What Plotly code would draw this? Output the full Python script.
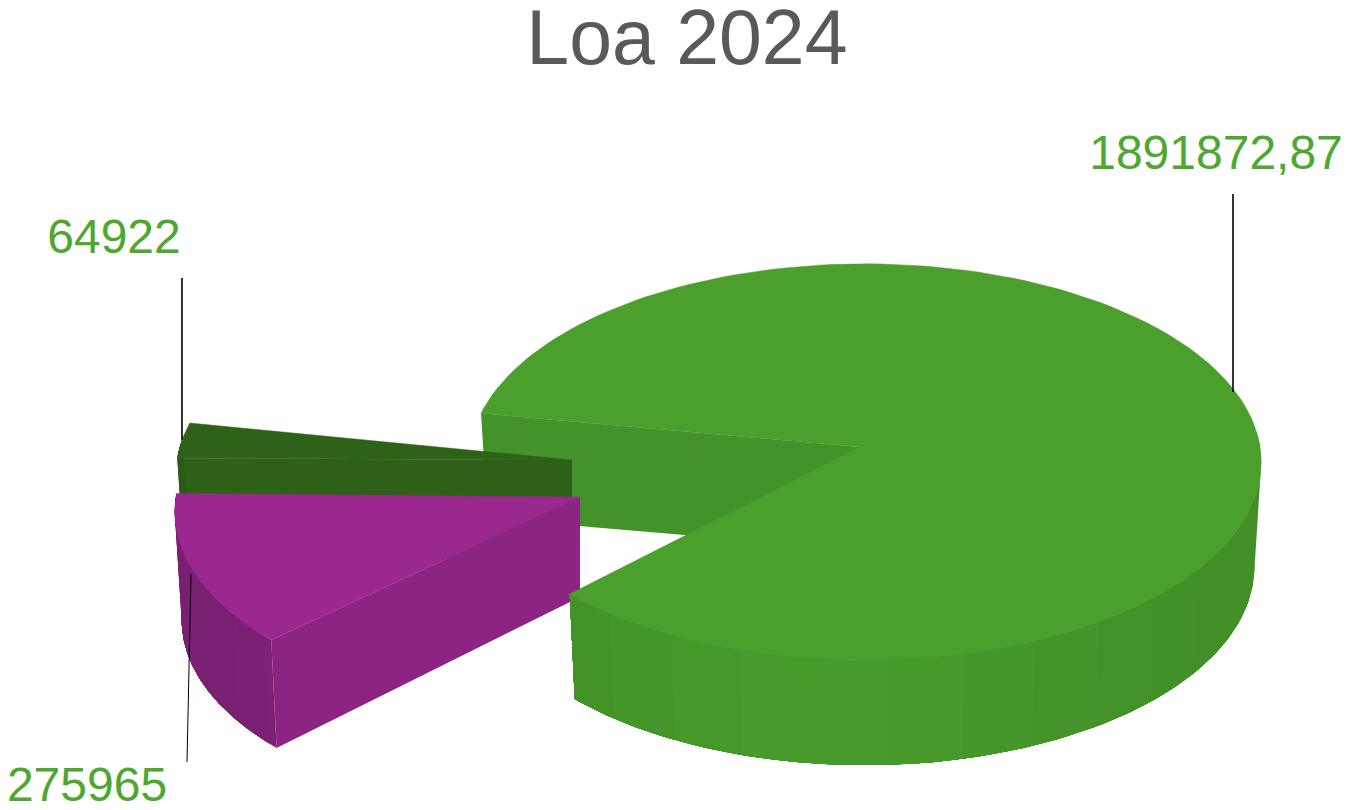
import numpy as np
import plotly.graph_objects as go

title = "Loa 2024"
labels = ["1891872,87", "275965", "64922"]
values = [1891872.87, 275965, 64922]
top_colors = ["#4b9f2c", "#9b288f", "#2f6219"]
radial_colors = ["#44922a", "#8b2482", "#2e6018"]
outer_colors = ["#45952a", "#7f2277", "#2e6018"]

# The page body keeps an 8px margin, so the figure sits at (8, 8) in the window.
PAGE_W, PAGE_H, BODY = 1349, 810, 8
A, K = 197.0, 0.0757

fractions = np.array(values) / sum(values)
sweeps = fractions * 360

# per-slice drawing geometry
GREEN = dict(apex=(860, 447), start=190.0, sweep=sweeps[0], cx=865, bx=395, depth=105, depth_apex=103)
PURPLE = dict(apex=(580, 497), start=136.5, sweep=sweeps[1], cx=582, bx=406, depth=108, depth_apex=100)
DARK = dict(apex=(572, 460), start=180.5, sweep=sweeps[2], cx=572, bx=395, depth=100, depth_apex=100)


def project(s, ang, drop=0.0, scale=1.0):
    u, v = np.cos(ang), np.sin(ang)
    d = 1 - K * v
    return s["cx"] + scale * s["bx"] * u / d, s["apex"][1] + drop + A * v / d


def angles(s, n):
    return np.radians(np.linspace(s["start"], s["start"] + s["sweep"], n))


def shade(hex_color, f):
    r, g, b = (int(hex_color[i:i + 2], 16) for i in (1, 3, 5))
    return f"rgb({min(255, int(r * f))},{min(255, int(g * f))},{min(255, int(b * f))})"


fig = go.Figure()


def poly(xs, ys, color, lw=0.0):
    fig.add_trace(go.Scatter(x=list(xs), y=list(ys), mode="lines", fill="toself",
                             fillcolor=color, line=dict(color=color, width=lw),
                             hoverinfo="skip", showlegend=False))


def outer_wall(s, color):
    ang = angles(s, 241)
    vis = ang[np.sin(ang) > -0.10]
    step = 8
    for i in range(0, len(vis) - 1, step):
        # each band runs on to the end of the arc; the next one paints over it, so no seams appear
        seg = vis[i:]
        x0, y0 = project(s, seg)
        x1, y1 = project(s, seg, s["depth"], 0.983)
        f = 0.96 + 0.08 * max(np.sin(vis[i]), 0.0) ** 4
        poly(np.r_[x0, x1[::-1]], np.r_[y0, y1[::-1]], shade(color, f))


def radial_wall(s, ang, color):
    a = np.array([np.radians(ang)])
    x, y = project(s, a)
    x2, y2 = project(s, a, s["depth"], 0.983)
    ax, ay = s["apex"]
    poly([ax, x[0], x2[0], ax], [ay, y[0], y2[0], ay + s["depth_apex"]], color)


def top(s, color):
    x, y = project(s, angles(s, 160))
    ax, ay = s["apex"]
    poly(np.r_[ax, x, ax], np.r_[ay, y, ay], color, 0.5)


radial_wall(GREEN, GREEN["start"], radial_colors[0])

radial_wall(DARK, DARK["start"], radial_colors[2])
outer_wall(DARK, outer_colors[2])
top(DARK, top_colors[2])

radial_wall(PURPLE, PURPLE["start"], radial_colors[1])
outer_wall(PURPLE, outer_colors[1])
top(PURPLE, top_colors[1])

outer_wall(GREEN, outer_colors[0])
top(GREEN, top_colors[0])

# leader lines
leaders = [([1233, 1233], [194, 392], 1.6), ([187, 191], [762, 574], 1.0), ([182, 182], [278, 440], 1.6)]
for lx, ly, lw in leaders:
    fig.add_trace(go.Scatter(x=lx, y=ly, mode="lines", line=dict(color="black", width=lw),
                             hoverinfo="skip", showlegend=False))

fig.add_trace(go.Scatter(x=[1216, 87, 114], y=[157, 789, 241], mode="text", text=labels,
                         textfont=dict(family="Liberation Sans", size=48, color="#4ea72e"),
                         hoverinfo="skip", showlegend=False, cliponaxis=False))

fig.update_layout(
    width=PAGE_W - BODY, height=PAGE_H - BODY, margin=dict(l=0, r=0, t=0, b=0),
    paper_bgcolor="white", plot_bgcolor="white", showlegend=False,
    title=dict(text=title, x=0.5063, xanchor="center", y=0.9638, yanchor="middle",
               font=dict(family="Liberation Sans", size=77, color="#595959")),
    xaxis=dict(range=[BODY, PAGE_W], visible=False, fixedrange=True),
    yaxis=dict(range=[PAGE_H, BODY], visible=False, fixedrange=True),
)
fig.write_html("out.html", config={"displayModeBar": False})
